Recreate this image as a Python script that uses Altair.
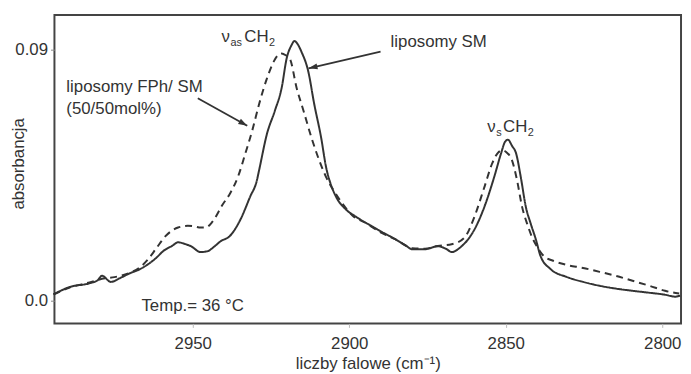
import altair as alt
import pandas as pd

# ---- data ----
sm_x = [2994.5, 2989.5, 2983, 2980.5, 2979, 2976.2, 2973, 2970.5, 2967, 2964.2, 2961.5, 2959.5,
        2956.5, 2954.7, 2952.5, 2950.6, 2947.5, 2945.3, 2943, 2941.1, 2938.3, 2934.8, 2931.7,
        2929.5, 2928.8, 2926.3, 2923.8, 2921.6, 2920, 2918.5, 2917.5, 2916.5, 2915.3, 2913.1,
        2911.2, 2909, 2907.4, 2906, 2904.2, 2901, 2897.9, 2893.8, 2889.4, 2885.3, 2882, 2879.9,
        2875.8, 2871.7, 2869, 2867.3, 2864.1, 2862, 2860, 2856.8, 2853.7, 2851.5, 2850.2, 2849.3,
        2848, 2846.7, 2845.2, 2843.6, 2842, 2840.4, 2838.9, 2835.7, 2830.6, 2825.3, 2820, 2814.9,
        2809.5, 2804.1, 2799.1, 2795.9, 2794.3]
sm_y = [0.0022, 0.0048, 0.0062, 0.0072, 0.0089, 0.0067, 0.0082, 0.0096, 0.0112, 0.0131, 0.0155,
        0.0177, 0.0197, 0.0209, 0.0203, 0.0195, 0.0174, 0.0177, 0.0195, 0.0213, 0.023, 0.029,
        0.0372, 0.0432, 0.0468, 0.0598, 0.068, 0.0763, 0.0869, 0.0915, 0.0931, 0.092, 0.0893,
        0.0822, 0.0705, 0.0585, 0.0478, 0.042, 0.0372, 0.0326, 0.0301, 0.0273, 0.0245, 0.022,
        0.0198, 0.0184, 0.0184, 0.0195, 0.0185, 0.0174, 0.0195, 0.022, 0.0255, 0.0337, 0.0443,
        0.0528, 0.057, 0.0577, 0.0555, 0.0528, 0.0443, 0.0337, 0.0275, 0.022, 0.016, 0.0113,
        0.0085, 0.0067, 0.0053, 0.0043, 0.0035, 0.0028, 0.0021, 0.0014, 0.0018]

fph_x = [2994.5, 2989.5, 2983, 2979, 2975, 2970.5, 2967, 2964.2, 2961.5, 2958.8, 2954.7, 2951.6,
         2949.4, 2947.5, 2945.9, 2943.7, 2940.5, 2938, 2935.5, 2933.2, 2931, 2928.8, 2926.3,
         2924.1, 2922.8, 2921.6, 2920.3, 2919, 2916.8, 2914.6, 2912.1, 2909.6, 2907.4, 2905,
         2902, 2899, 2895, 2890, 2885.3, 2879.9, 2875.8, 2871.7, 2867.3, 2863.1, 2860, 2856.8,
         2854.3, 2852.5, 2851.2, 2849.8, 2848, 2846.4, 2844.8, 2843, 2841.5, 2840.1, 2837.9,
         2834.7, 2830.6, 2825.3, 2820, 2814.9, 2809.5, 2804.1, 2799.1, 2794.6]
fph_y = [0.0022, 0.0046, 0.0065, 0.0078, 0.0084, 0.0098, 0.0118, 0.0149, 0.019, 0.023, 0.0262,
         0.0268, 0.0266, 0.0262, 0.0262, 0.0283, 0.0344, 0.0386, 0.0446, 0.0528, 0.061, 0.0705,
         0.0797, 0.0858, 0.088, 0.0886, 0.088, 0.0868, 0.0762, 0.068, 0.0585, 0.0503, 0.0443,
         0.0395, 0.0345, 0.0305, 0.028, 0.0245, 0.022, 0.0188, 0.0186, 0.0196, 0.0202, 0.0227,
         0.0301, 0.0408, 0.0493, 0.053, 0.0539, 0.0532, 0.0503, 0.0432, 0.0337, 0.027, 0.0225,
         0.0195, 0.016, 0.0142, 0.0128, 0.0117, 0.0103, 0.0089, 0.0071, 0.0053, 0.0035, 0.0025]

series_names = ["liposomy SM", "liposomy FPh/ SM"]
x_ticks = [2950, 2900, 2850, 2800]
y_ticks = [0, 0.09]

# annotation texts (anchor in data coordinates)
labels_text = ["liposomy SM", "liposomy FPh/ SM", "(50/50mol%)", "Temp.= 36 °C"]
labels_x = [2886.8, 2990.4, 2990.4, 2966.4]
labels_y = [0.0928, 0.0765, 0.0687, -0.0021]

# arrows: start -> end (data coordinates)
arrow_x1 = [2890.0, 2948.4]
arrow_y1 = [0.0893, 0.0726]
arrow_x2 = [2913.0, 2932.6]
arrow_y2 = [0.0833, 0.0627]

# band labels nu_as CH2 and nu_s CH2 (anchor)
band_x = [2940.8, 2855.9]
band_y = [0.0928, 0.0606]
band_sub = ["as", "s"]

# ---- build tables ----
df = pd.concat([
    pd.DataFrame({"x": sm_x, "y": sm_y, "s": series_names[0], "o": range(len(sm_x))}),
    pd.DataFrame({"x": fph_x, "y": fph_y, "s": series_names[1], "o": range(len(fph_x))}),
])
lab = pd.DataFrame({"t": labels_text, "x": labels_x, "y": labels_y})
arr = pd.DataFrame({"x": arrow_x1, "y": arrow_y1, "x2": arrow_x2, "y2": arrow_y2,
                    "ang": [257, 119]})
band = pd.DataFrame({"x": band_x, "y": band_y, "sub": band_sub})

FONT = "Liberation Sans"
INK = "#333333"

xs = alt.Scale(domain=[2794, 2994.2], reverse=True, nice=False, zero=False)
ys = alt.Scale(domain=[-0.0082, 0.1024], nice=False, zero=False)

lines = alt.Chart(df).mark_line(color=INK, strokeWidth=2, interpolate="monotone").encode(
    x=alt.X("x:Q", scale=xs,
            axis=alt.Axis(values=x_ticks, format="d", title="liczby falowe (cm⁻¹)",
                          grid=False, domain=False, tickColor="#bbbbbb", tickSize=4,
                          labelPadding=8, labelFontSize=17, labelColor=INK, labelFont=FONT,
                          titleFontSize=17, titleColor=INK, titleFont=FONT,
                          titleFontWeight="normal", titlePadding=5)),
    y=alt.Y("y:Q", scale=ys,
            axis=alt.Axis(values=y_ticks, labelExpr="datum.value == 0 ? '0.0' : '0.09'",
                          title="absorbancja", grid=False, domain=False, tickColor="#888888",
                          tickSize=4, labelPadding=3, labelFontSize=17, labelColor=INK,
                          labelFont=FONT, titleFontSize=17, titleColor=INK, titleFont=FONT,
                          titleFontWeight="normal", titleAngle=-90, titleX=-31, titleY=150,
                          titleAlign="center", titleBaseline="alphabetic")),
    strokeDash=alt.StrokeDash("s:N", scale=alt.Scale(domain=series_names, range=[[1, 0], [7, 5]]),
                              legend=None),
    detail="s:N",
    order="o:Q",
)

texts = alt.Chart(lab).mark_text(align="left", baseline="middle", font=FONT, fontSize=17,
                                 color=INK).encode(x=alt.X("x:Q", scale=xs), y=alt.Y("y:Q", scale=ys),
                                                   text="t:N")

rules = alt.Chart(arr).mark_rule(color=INK, strokeWidth=1.8).encode(
    x=alt.X("x:Q", scale=xs), y=alt.Y("y:Q", scale=ys), x2="x2:Q", y2="y2:Q")

heads = alt.Chart(arr).mark_point(shape="M0,0 L-0.6,1.8 L0.6,1.8 Z", filled=True, size=100,
                                  color=INK, opacity=1).encode(
    x=alt.X("x2:Q", scale=xs), y=alt.Y("y2:Q", scale=ys), angle=alt.Angle("ang:Q", scale=None))

def part(rows, dx, dy, size, text=None, field=None):
    kw = dict(align="left", baseline="alphabetic", font=FONT, fontSize=size, color=INK, dx=dx, dy=dy)
    if text is not None:
        kw["text"] = text
    enc = dict(x=alt.X("x:Q", scale=xs), y=alt.Y("y:Q", scale=ys))
    if field is not None:
        enc["text"] = alt.Text(field + ":N")
    return alt.Chart(band.iloc[rows]).mark_text(**kw).encode(**enc)

band_nu = part([0, 1], 0, 0, 17, text="ν")
band_sub_m = part([0, 1], 9, 4, 11, field="sub")
ch_as = part([0], 23, 0, 17, text="CH")
two_as = part([0], 48, 4, 11, text="2")
ch_s = part([1], 16, 0, 17, text="CH")
two_s = part([1], 41, 4, 11, text="2")

chart = alt.layer(lines, rules, heads, texts, band_nu, band_sub_m, ch_as, two_as, ch_s, two_s).properties(
    width=634, height=312,
    autosize=alt.AutoSizeParams(type="none"),
    padding={"left": 47, "top": 5, "right": 2, "bottom": 49},
    background="white",
).configure_view(stroke="#444444", strokeWidth=2)

chart.save("out.html", embed_options={"renderer": "svg", "actions": False})
